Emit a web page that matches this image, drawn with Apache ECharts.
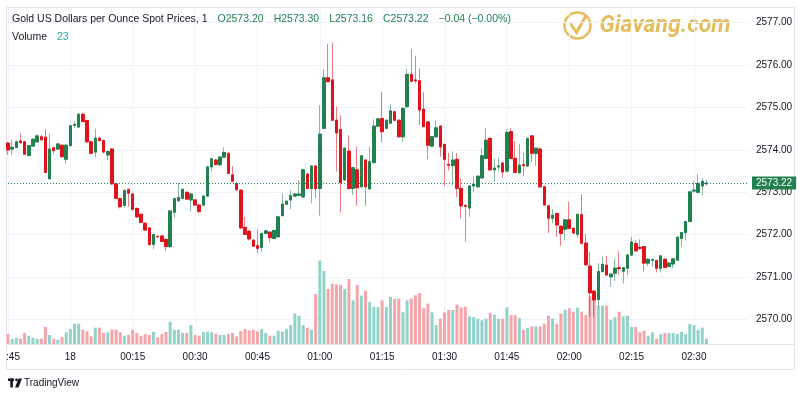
<!DOCTYPE html>
<html>
<head>
<meta charset="utf-8">
<title>Gold spot 1m</title>
<script src="https://cdn.jsdelivr.net/npm/echarts@6/dist/echarts.min.js"></script>
<style>
  html, body { margin: 0; padding: 0; background: #fff; }
  #chart { width: 800px; height: 400px; }
</style>
</head>
<body>
<div id="chart"></div>
<script>
// 1 minute candles, 23:45 -> 02:33
const symbolName = "Gold US Dollars per Ounce Spot Prices, 1";
const startTime = "23:45";
const slotCount = 179; // includes empty slots on the right side

const opens = [
  2574.16, 2574.02, 2574.06, 2574.21, 2574.19, 2573.87, 2574.09, 2574.19, 2574.31, 2574.30,
  2573.32, 2574.05, 2574.02, 2574.11, 2573.78, 2574.10, 2574.58, 2574.54, 2574.84, 2574.69,
  2574.19, 2573.95, 2574.28, 2574.22, 2573.88, 2574.02, 2573.20, 2572.85, 2572.69, 2573.06,
  2572.96, 2572.62, 2572.48, 2572.27, 2572.16, 2571.77, 2571.96, 2571.97, 2571.89, 2571.72,
  2572.53, 2572.80, 2572.86, 2573.00, 2572.82, 2572.82, 2572.70, 2572.70, 2572.91, 2573.60,
  2573.76, 2573.65, 2573.83, 2573.92, 2573.41, 2573.21, 2573.05, 2572.17, 2572.08, 2571.87,
  2571.74, 2571.70, 2572.03, 2572.06, 2571.91, 2571.95, 2572.45, 2572.72, 2572.82, 2572.91,
  2572.93, 2572.89, 2573.43, 2573.09, 2573.62, 2573.09, 2574.51, 2575.70, 2575.65, 2574.70,
  2574.48, 2573.29, 2573.97, 2573.09, 2573.53, 2573.13, 2573.76, 2573.08, 2573.70, 2574.56,
  2574.74, 2574.51, 2574.63, 2574.90, 2574.70, 2574.31, 2575.02, 2575.78, 2575.65, 2575.63,
  2574.96, 2574.66, 2574.09, 2574.31, 2574.56, 2574.13, 2573.66, 2573.63, 2573.78, 2573.09,
  2572.69, 2572.63, 2573.15, 2573.13, 2573.34, 2573.80, 2574.27, 2573.53, 2573.60, 2573.69,
  2573.50, 2574.43, 2573.80, 2573.46, 2573.65, 2573.62, 2574.33, 2573.92, 2574.02, 2573.13,
  2572.68, 2572.39, 2572.50, 2572.20, 2572.13, 2572.35, 2572.15, 2572.01, 2572.47, 2571.80,
  2571.26, 2570.67, 2570.47, 2571.13, 2571.28, 2571.01, 2571.09, 2571.22, 2571.14, 2571.21,
  2571.52, 2571.79, 2571.70, 2571.72, 2571.33, 2571.40, 2571.39, 2571.21, 2571.42, 2571.25,
  2571.31, 2571.40, 2571.91, 2572.05, 2572.31, 2573.03, 2573.00, 2573.15, 2573.20
];
const highs = [
  2574.19, 2574.24, 2574.22, 2574.39, 2574.22, 2574.12, 2574.27, 2574.36, 2574.36, 2574.49,
  2574.39, 2574.07, 2574.16, 2574.14, 2574.14, 2574.59, 2574.67, 2574.86, 2574.88, 2574.71,
  2574.21, 2574.50, 2574.31, 2574.24, 2573.99, 2574.05, 2573.22, 2572.87, 2573.07, 2573.10,
  2572.98, 2572.64, 2572.50, 2572.29, 2572.18, 2572.02, 2571.98, 2571.99, 2571.91, 2572.58,
  2572.87, 2573.22, 2573.09, 2573.02, 2572.98, 2572.85, 2572.72, 2572.93, 2573.62, 2573.81,
  2573.79, 2573.85, 2574.06, 2573.94, 2573.62, 2573.23, 2573.07, 2572.42, 2572.10, 2571.89,
  2572.13, 2572.05, 2572.11, 2572.08, 2572.12, 2572.44, 2572.97, 2572.81, 2573.05, 2572.98,
  2573.29, 2573.55, 2573.45, 2573.64, 2573.64, 2575.06, 2575.90, 2576.50, 2576.53, 2575.02,
  2574.81, 2574.06, 2574.35, 2573.60, 2574.08, 2573.88, 2573.78, 2574.08, 2574.72, 2574.75,
  2575.37, 2574.72, 2575.08, 2574.92, 2574.72, 2575.00, 2575.91, 2576.38, 2576.22, 2575.92,
  2575.37, 2574.68, 2574.33, 2574.69, 2574.58, 2574.15, 2573.93, 2573.96, 2573.93, 2573.33,
  2572.71, 2573.17, 2573.38, 2573.40, 2574.04, 2574.51, 2574.30, 2573.80, 2573.82, 2573.71,
  2574.49, 2574.51, 2574.21, 2574.13, 2573.93, 2574.29, 2574.35, 2574.06, 2574.06, 2573.15,
  2572.70, 2572.61, 2572.52, 2572.22, 2572.37, 2572.78, 2572.17, 2572.50, 2572.96, 2572.02,
  2571.60, 2570.69, 2571.33, 2571.48, 2571.50, 2571.09, 2571.44, 2571.61, 2571.24, 2571.54,
  2571.95, 2571.87, 2571.89, 2571.74, 2571.44, 2571.44, 2571.41, 2571.52, 2571.44, 2571.35,
  2571.45, 2571.96, 2572.07, 2572.33, 2573.03, 2573.27, 2573.43, 2573.33, 2573.30
];
const lows = [
  2573.88, 2573.88, 2574.04, 2574.15, 2573.88, 2573.85, 2574.07, 2574.17, 2574.22, 2573.45,
  2573.30, 2573.91, 2574.00, 2573.82, 2573.67, 2574.08, 2574.52, 2574.52, 2574.65, 2574.17,
  2573.90, 2573.83, 2574.20, 2573.92, 2573.76, 2573.18, 2572.84, 2572.62, 2572.64, 2572.66,
  2572.57, 2572.40, 2572.27, 2572.09, 2571.74, 2571.66, 2571.93, 2571.82, 2571.62, 2571.68,
  2572.40, 2572.78, 2572.84, 2572.82, 2572.55, 2572.68, 2572.50, 2572.66, 2572.89, 2573.49,
  2573.63, 2573.62, 2573.81, 2573.43, 2573.24, 2573.04, 2572.14, 2571.99, 2571.87, 2571.71,
  2571.57, 2571.60, 2572.01, 2571.83, 2571.89, 2571.93, 2572.43, 2572.70, 2572.60, 2572.89,
  2572.91, 2572.87, 2573.07, 2572.74, 2572.86, 2572.45, 2574.49, 2575.59, 2574.68, 2573.49,
  2572.52, 2573.27, 2573.07, 2572.94, 2572.68, 2573.11, 2572.68, 2573.06, 2573.68, 2574.54,
  2574.18, 2574.49, 2574.61, 2574.68, 2574.29, 2574.19, 2575.00, 2575.60, 2575.57, 2574.59,
  2574.53, 2573.78, 2574.07, 2574.29, 2573.84, 2573.15, 2573.52, 2573.17, 2572.89, 2572.39,
  2571.84, 2572.42, 2573.01, 2573.11, 2573.32, 2573.78, 2573.50, 2573.25, 2573.49, 2573.34,
  2573.48, 2573.78, 2573.45, 2573.44, 2573.38, 2573.60, 2573.72, 2573.63, 2573.11, 2572.68,
  2572.04, 2572.27, 2571.95, 2571.74, 2571.87, 2572.13, 2572.02, 2571.94, 2571.78, 2571.27,
  2570.06, 2570.06, 2570.30, 2571.11, 2571.03, 2570.77, 2570.91, 2571.05, 2570.85, 2571.05,
  2571.50, 2571.60, 2571.64, 2571.13, 2571.26, 2571.24, 2571.11, 2571.11, 2571.21, 2571.23,
  2571.21, 2571.38, 2571.72, 2571.87, 2572.29, 2572.99, 2572.98, 2572.93, 2573.16
];
const closes = [
  2574.00, 2574.06, 2574.19, 2574.17, 2573.90, 2574.10, 2574.25, 2574.33, 2574.24, 2573.47,
  2574.02, 2573.98, 2574.14, 2573.84, 2574.11, 2574.57, 2574.60, 2574.84, 2574.67, 2574.19,
  2573.92, 2574.28, 2574.22, 2573.95, 2573.96, 2573.20, 2572.86, 2572.66, 2573.04, 2572.98,
  2572.60, 2572.42, 2572.29, 2572.11, 2571.77, 2572.00, 2571.95, 2571.84, 2571.72, 2572.56,
  2572.85, 2572.88, 2573.07, 2572.84, 2572.96, 2572.70, 2572.55, 2572.91, 2573.60, 2573.79,
  2573.66, 2573.83, 2573.94, 2573.45, 2573.26, 2573.06, 2572.16, 2572.01, 2571.90, 2571.73,
  2571.68, 2572.03, 2572.09, 2571.93, 2572.10, 2572.42, 2572.72, 2572.79, 2572.92, 2572.96,
  2572.96, 2573.53, 2573.09, 2573.62, 2573.09, 2574.37, 2575.70, 2575.61, 2574.70, 2574.40,
  2573.23, 2574.04, 2573.09, 2573.58, 2573.11, 2573.86, 2573.13, 2573.72, 2574.56, 2574.73,
  2574.43, 2574.70, 2574.92, 2574.70, 2574.31, 2574.98, 2575.78, 2575.62, 2575.63, 2574.94,
  2574.55, 2574.11, 2574.31, 2574.52, 2574.07, 2573.78, 2573.64, 2573.76, 2573.09, 2572.68,
  2572.67, 2573.15, 2573.19, 2573.38, 2573.86, 2574.23, 2573.53, 2573.57, 2573.62, 2573.48,
  2574.41, 2573.80, 2573.47, 2573.64, 2573.63, 2574.27, 2573.92, 2574.04, 2573.13, 2572.70,
  2572.39, 2572.46, 2572.23, 2572.03, 2572.35, 2572.15, 2572.04, 2572.48, 2571.80, 2571.29,
  2570.63, 2570.46, 2571.13, 2571.30, 2571.05, 2571.07, 2571.21, 2571.20, 2571.22, 2571.52,
  2571.83, 2571.62, 2571.68, 2571.33, 2571.42, 2571.41, 2571.21, 2571.50, 2571.23, 2571.33,
  2571.43, 2571.94, 2572.05, 2572.31, 2573.01, 2573.05, 2573.21, 2573.26, 2573.22
];
const volumes = [
  43, 23, 27, 23, 48, 36, 27, 22, 23, 74,
  39, 23, 19, 30, 51, 65, 88, 88, 62, 55,
  33, 71, 71, 48, 51, 62, 62, 51, 36, 40,
  62, 48, 36, 43, 40, 53, 29, 43, 53, 97,
  62, 62, 48, 48, 82, 39, 36, 51, 53, 51,
  45, 39, 39, 45, 48, 33, 56, 65, 59, 62,
  55, 65, 48, 36, 36, 58, 55, 66, 82, 132,
  123, 82, 71, 62, 217, 362, 317, 239, 262, 259,
  256, 239, 282, 190, 256, 210, 231, 182, 161, 161,
  190, 161, 204, 195, 197, 138, 190, 197, 211, 221,
  156, 175, 138, 82, 110, 138, 148, 148, 171, 159,
  162, 120, 117, 110, 103, 110, 135, 127, 110, 110,
  159, 125, 125, 113, 62, 69, 77, 77, 77, 88,
  123, 110, 88, 132, 149, 155, 140, 158, 140, 126,
  207, 190, 166, 166, 166, 105, 116, 140, 120, 123,
  74, 74, 51, 58, 36, 51, 23, 43, 48, 48,
  48, 43, 53, 43, 87, 82, 62, 71, 23
];

const FONT = "'Liberation Sans Narrow', 'Arial Narrow', 'Liberation Sans', sans-serif";
const upColor = "#22804f";
const downColor = "#e0131c";
const upWick = "rgba(34,128,79,0.55)";
const downWick = "rgba(224,19,28,0.55)";
const volUp = "#92d3c9";
const volDown = "#f5a5aa";
const textColor = "#131722";
const gridColor = "#f0f3fa";
const borderColor = "#e0e3eb";
const goldColor = "#e3bd5c";

// time categories
function pad(n) {
  return n < 10 ? "0" + n : "" + n;
}
const times = [];
const startMin = parseInt(startTime.slice(0, 2)) * 60 + parseInt(startTime.slice(3));
for (let i = 0; i < slotCount; i++) {
  const m = (startMin + i) % 1440;
  times.push(pad(Math.floor(m / 60)) + ":" + pad(m % 60));
}
function isQuarter(index, value) {
  return parseInt(value.slice(3)) % 15 === 0;
}

// wick series uses full range, body series only open/close
const wickData = opens.map((o, i) => [o, closes[i], lows[i], highs[i]]);
const bodyData = opens.map((o, i) => [o, closes[i], Math.min(o, closes[i]), Math.max(o, closes[i])]);
const volData = volumes.map((v, i) => ({
  value: v,
  itemStyle: { color: closes[i] >= opens[i] ? volUp : volDown },
}));

const last = opens.length - 1;
const chg = closes[last] - closes[last - 1];
const chgPct = (chg / closes[last - 1]) * 100;
function sign(n) {
  return (n < 0 ? "\u2212" : "+") + Math.abs(n).toFixed(2);
}
const headerLine =
  "{t|" + symbolName + "}  " +
  "{g|O" + opens[last].toFixed(2) + "}  " +
  "{g|H" + highs[last].toFixed(2) + "}  " +
  "{g|L" + lows[last].toFixed(2) + "}  " +
  "{g|C" + closes[last].toFixed(2) + "}  " +
  "{g|" + sign(chg) + " (" + sign(chgPct) + "%)}\n" +
  "{t|Volume}  {v|" + volumes[last] + "}";

const headerStyle = { fontFamily: FONT, fontSize: 10.5, fontWeight: "normal", lineHeight: 18 };

const chart = echarts.init(document.getElementById("chart"));
const option = {
  animation: false,
  backgroundColor: "#fff",
  title: {
    left: 12,
    top: 10,
    padding: 0,
    text: headerLine,
    textStyle: {
      fontWeight: "normal",
      rich: {
        t: Object.assign({ color: textColor }, headerStyle),
        g: Object.assign({ color: upColor }, headerStyle),
        v: Object.assign({ color: "#26a69a" }, headerStyle),
      },
    },
  },
  grid: [
    { left: 8, right: 52, top: 8, bottom: 56 },
    { left: 8, right: 52, top: 250, bottom: 56 },
  ],
  xAxis: [
    {
      type: "category",
      data: times,
      boundaryGap: false,
      axisLine: { show: false },
      axisTick: { show: false },
      axisLabel: {
        interval: isQuarter,
        margin: 8,
        color: textColor,
        fontFamily: FONT,
        fontSize: 10,
        formatter: (value, index) => {
          if (value === "00:00") return "18";
          // first label is cut by the left border
          if (index === 0) return "{cut|" + value.slice(2) + "}";
          return value;
        },
        rich: {
          cut: { fontFamily: FONT, fontSize: 10, color: textColor, padding: [0, 0, 0, 10] },
        },
      },
      splitLine: { show: true, interval: isQuarter, lineStyle: { color: gridColor } },
    },
    {
      type: "category",
      gridIndex: 1,
      data: times,
      boundaryGap: false,
      show: false,
    },
  ],
  yAxis: [
    {
      type: "value",
      position: "right",
      min: 2569.422,
      max: 2577.347,
      splitNumber: 8,
      minInterval: 1,
      maxInterval: 1,
      axisLine: { show: false },
      axisTick: { show: false },
      axisLabel: {
        margin: 8,
        color: textColor,
        fontFamily: FONT,
        fontSize: 10,
        showMinLabel: false,
        showMaxLabel: false,
        formatter: (v) => v.toFixed(2),
      },
      splitLine: {
        lineStyle: { color: gridColor },
        showMinLine: false,
        showMaxLine: false,
      },
    },
    {
      type: "value",
      gridIndex: 1,
      min: 0,
      max: 408,
      show: false,
    },
  ],
  series: [
    {
      name: "vol",
      type: "bar",
      xAxisIndex: 1,
      yAxisIndex: 1,
      barWidth: 3,
      data: volData,
      z: 1,
      markLine: {
        silent: true,
        symbol: ["none", "none"],
        data: [{ yAxis: volumes[last] }],
        lineStyle: { opacity: 0 },
        label: {
          position: "end",
          distance: 4,
          formatter: "" + volumes[last],
          color: "#fff",
          backgroundColor: "#26a69a",
          padding: [2, 4, 1, 4],
          fontFamily: FONT,
          fontSize: 10,
        },
      },
    },
    {
      name: "wick",
      type: "candlestick",
      barWidth: 3,
      clip: false,
      data: wickData,
      z: 3,
      itemStyle: {
        color: upWick,
        color0: downWick,
        borderColor: upWick,
        borderColor0: downWick,
        borderWidth: 1,
      },
    },
    {
      name: "body",
      type: "candlestick",
      barWidth: 3,
      clip: false,
      data: bodyData,
      z: 4,
      itemStyle: {
        color: upColor,
        color0: downColor,
        borderColor: upColor,
        borderColor0: downColor,
        borderWidth: 1,
      },
      markLine: {
        silent: true,
        symbol: ["none", "none"],
        data: [{ yAxis: closes[last] }],
        lineStyle: { color: upColor, type: [1, 2], width: 1 },
        label: {
          position: "end",
          distance: 4,
          formatter: closes[last].toFixed(2),
          color: "#fff",
          backgroundColor: upColor,
          padding: [2, 4, 1, 4],
          fontFamily: FONT,
          fontSize: 10,
        },
      },
    },
  ],
  graphic: [
    // frame and time axis border
    {
      type: "rect",
      shape: { x: 6.5, y: 7.5, width: 788, height: 362 },
      style: { fill: "none", stroke: borderColor, lineWidth: 1 },
      silent: true,
      z: 0,
    },
    {
      type: "line",
      shape: { x1: 7, y1: 344.5, x2: 795, y2: 344.5 },
      style: { stroke: borderColor, lineWidth: 1 },
      silent: true,
    },
    // giavang watermark
    {
      type: "group",
      left: 562,
      top: 10,
      silent: true,
      children: [
        {
          type: "circle",
          shape: { cx: 15, cy: 16, r: 13 },
          style: { fill: "none", stroke: goldColor, lineWidth: 2.5 },
        },
        {
          type: "polyline",
          shape: { points: [[8, 14], [14, 23], [23, 7]] },
          style: { fill: "none", stroke: goldColor, lineWidth: 3 },
        },
        {
          type: "text",
          x: 37,
          y: 17,
          style: {
            text: "Giavang.com",
            font: "italic bold 23px Roboto",
            fill: goldColor,
            verticalAlign: "middle",
          },
        },
      ],
    },
    // tradingview mark
    {
      type: "group",
      left: 8,
      top: 378,
      silent: true,
      children: [
        { type: "rect", shape: { x: 0, y: 1, width: 6, height: 2.5 }, style: { fill: textColor } },
        { type: "rect", shape: { x: 2.3, y: 1, width: 2.6, height: 9 }, style: { fill: textColor } },
        { type: "circle", shape: { cx: 8.5, cy: 2.3, r: 1.4 }, style: { fill: textColor } },
        { type: "polygon", shape: { points: [[10.5, 1], [14, 1], [10.5, 10], [7, 10]] }, style: { fill: textColor } },
        {
          type: "text",
          x: 16,
          y: 5.5,
          style: { text: "TradingView", font: "10px " + FONT, fill: textColor, verticalAlign: "middle" },
        },
      ],
    },
  ],
};
chart.setOption(option);
</script>
</body>
</html>
